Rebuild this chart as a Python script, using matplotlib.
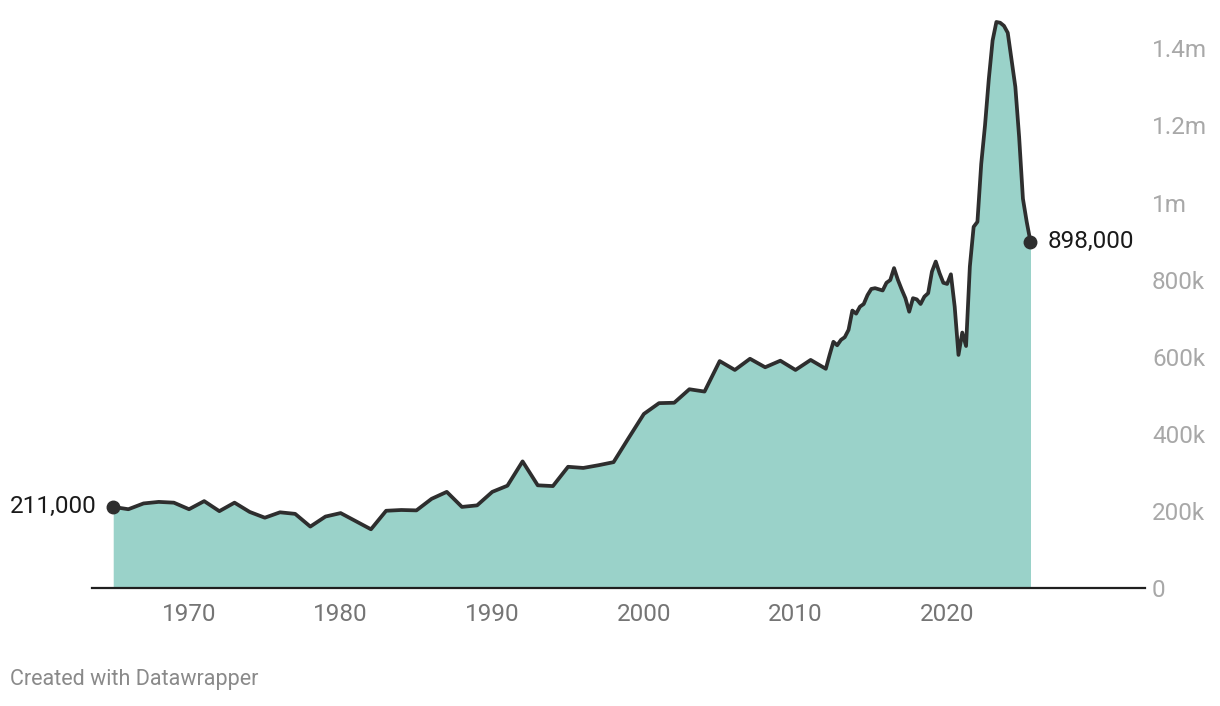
import matplotlib
matplotlib.use('Agg')
import matplotlib.pyplot as plt
import numpy as np

# Годовые значения 1965-2012 (тыс.)
annual_years = list(range(1965, 2013))
annual_values = [211, 205, 220, 224, 222, 205, 226, 200, 222, 198,
                 183, 197, 193, 160, 186, 195, 174, 153, 201, 203,
                 202, 232, 250, 211, 215, 250, 266, 329, 267, 265,
                 315, 312, 319, 327, 390, 452, 480, 481, 516, 510,
                 589, 566, 595, 573, 590, 566, 592, 569]

# Квартальные значения 2012.25-2025.5 (тыс.)
quarter_values = [605, 639, 630, 644, 651, 670, 720, 712, 730, 737,
                  760, 776, 778, 775, 772, 792, 799, 830, 800, 775,
                  752, 717, 752, 749, 737, 756, 765, 821, 847, 817,
                  792, 789, 814, 730, 605, 663, 628, 834, 937, 950,
                  1100, 1200, 1320, 1420, 1468, 1466, 1458, 1440, 1370, 1300,
                  1170, 1010, 950, 898]
quarter_years = [2012 + 0.25 * (i + 1) for i in range(len(quarter_values))]

tick_years = [1970, 1980, 1990, 2000, 2010, 2020]
y_ticks = [0, 200, 400, 600, 800, 1000, 1200, 1400]
y_labels = ['0', '200k', '400k', '600k', '800k', '1m', '1.2m', '1.4m']
start_label = '211,000'
end_label = '898,000'

x = np.array(annual_years + quarter_years, dtype=float)
y = np.array(annual_values + quarter_values, dtype=float)

plt.rcParams['font.family'] = ['Roboto', 'DejaVu Sans']

fig = plt.figure(figsize=(12.2, 7.06), dpi=100)
ax = fig.add_axes([0.0754, 0.1667, 0.8631, 0.8191])

ax.fill_between(x, 0, y, color='#9ad2c9', linewidth=0)
ax.plot(x, y, color='#2e2e2e', linewidth=2.7, solid_joinstyle='round',
        solid_capstyle='round')

# точки и подписи на концах
ax.plot([x[0], x[-1]], [y[0], y[-1]], 'o', color='#2e2e2e', markersize=9)
ax.annotate(start_label, (x[0], y[0]), xytext=(-12, 0), textcoords='offset points',
            ha='right', va='center', fontsize=17.5, color='#1a1a1a')
ax.annotate(end_label, (x[-1], y[-1]), xytext=(12, 0), textcoords='offset points',
            ha='left', va='center', fontsize=17.5, color='#1a1a1a')

ax.set_xlim(1963.6, 2033.05)
ax.set_ylim(0, 1499)

ax.set_xticks(tick_years)
ax.set_xticklabels([str(t) for t in tick_years])
ax.set_yticks(y_ticks)
ax.set_yticklabels(y_labels)
ax.yaxis.tick_right()

ax.tick_params(axis='x', length=0, pad=10.5, labelsize=17.5, labelcolor='#757575')
ax.tick_params(axis='y', length=0, pad=5, labelsize=17.5, labelcolor='#a8a8a8')
for lbl in ax.get_yticklabels():
    lbl.set_horizontalalignment('left')

for side in ['top', 'left', 'right']:
    ax.spines[side].set_visible(False)
ax.spines['bottom'].set_color('#1f1f1f')
ax.spines['bottom'].set_linewidth(1.6)
ax.set_facecolor('none')

fig.text(10 / 1220, 1 - 680 / 706, 'Created with Datawrapper', fontsize=15.5,
         color='#8a8a8a', ha='left', va='center')

fig.savefig('out.png', dpi=100)
